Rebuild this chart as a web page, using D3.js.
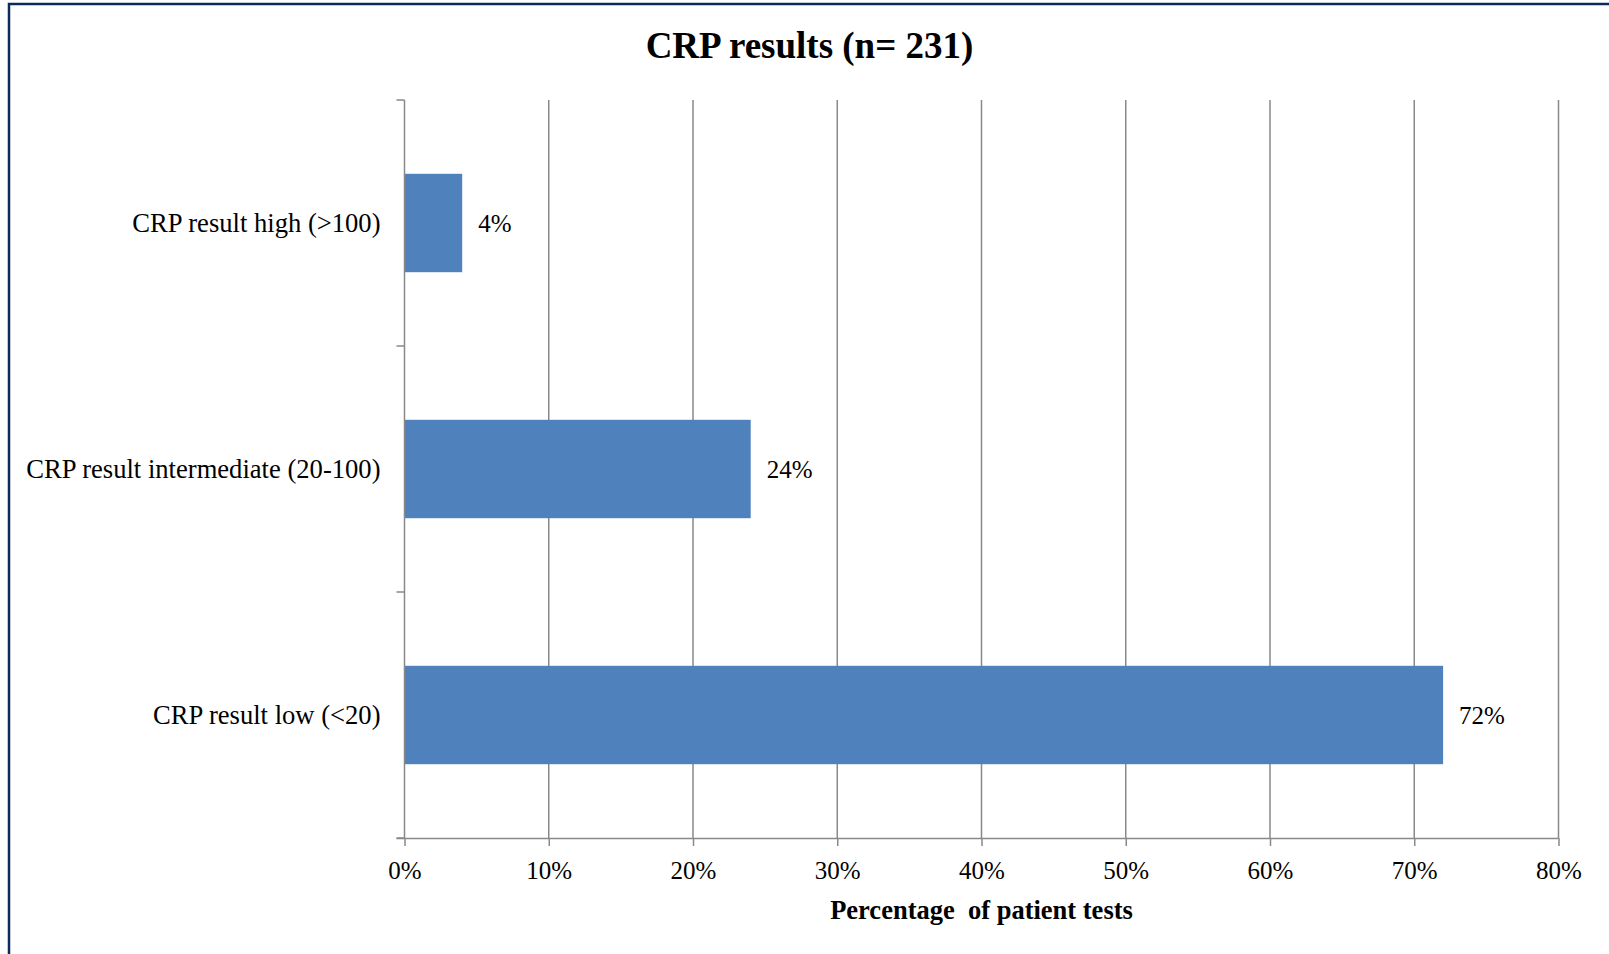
<!DOCTYPE html>
<html>
<head>
<meta charset="utf-8">
<script src="https://cdn.jsdelivr.net/npm/d3@7"></script>
<style>
  html, body { margin: 0; padding: 0; background: #fff; }
  svg { display: block; }
  text { font-family: "Liberation Serif", "Times New Roman", serif; fill: #000; }
</style>
</head>
<body>
<script>
// CRP result categories and share of patient tests
const categories = ["CRP result high (>100)", "CRP result intermediate (20-100)", "CRP result low (<20)"];
const values = [4, 24, 72];
const xTicks = [0, 10, 20, 30, 40, 50, 60, 70, 80];
const chartTitle = "CRP results (n= 231)";
const xTitle = "Percentage  of patient tests";

const W = 1609, H = 954;
const plot = { left: 404.5, right: 1558.5, top: 100, bottom: 838 };
const gridColor = "#898989";
const catSize = 26.6;
const numSize = 25;

const svg = d3.select("body").append("svg")
  .attr("width", W).attr("height", H);

// outer frame
svg.append("rect")
  .attr("x", 9).attr("y", 4)
  .attr("width", W + 20).attr("height", H + 20)
  .attr("fill", "#fff")
  .attr("stroke", "#0c2a5c").attr("stroke-width", 2.5);

const x = d3.scaleLinear().domain([0, 80]).range([plot.left, plot.right]);
const y = d3.scaleBand().domain(categories).range([plot.top, plot.bottom])
  .paddingInner(0.6).paddingOuter(0.3);

// vertical gridlines
svg.append("g")
  .selectAll("line")
  .data(xTicks.slice(1))
  .join("line")
  .attr("x1", d => x(d)).attr("x2", d => x(d))
  .attr("y1", plot.top).attr("y2", plot.bottom)
  .attr("stroke", gridColor).attr("stroke-width", 1.5);

// bars
svg.append("g")
  .selectAll("rect")
  .data(values)
  .join("rect")
  .attr("x", x(0))
  .attr("y", (d, i) => y(categories[i]))
  .attr("width", d => x(d) - x(0))
  .attr("height", y.bandwidth())
  .attr("fill", "#4f81bd");

// value labels
svg.append("g")
  .selectAll("text")
  .data(values)
  .join("text")
  .attr("x", d => x(d) + 16)
  .attr("y", (d, i) => y(categories[i]) + y.bandwidth() / 2)
  .attr("dy", "0.35em")
  .attr("font-size", numSize)
  .text(d => d + "%");

// x axis
const xAxis = svg.append("g")
  .attr("transform", `translate(0,${plot.bottom})`)
  .call(d3.axisBottom(x).tickValues(xTicks).tickFormat(d => d + "%")
    .tickSizeInner(8).tickSizeOuter(0).tickPadding(15));
xAxis.select(".domain").attr("stroke", gridColor).attr("stroke-width", 1.5)
  .attr("d", `M${plot.left - 8},0.5H${plot.right}`);
xAxis.selectAll(".tick line").attr("stroke", gridColor).attr("stroke-width", 1.5);
xAxis.selectAll(".tick text")
  .attr("font-family", "Liberation Serif, Times New Roman, serif")
  .attr("font-size", numSize).attr("fill", "#000");

// y axis with ticks between categories
const yBound = d3.scaleLinear().domain([0, categories.length]).range([plot.top, plot.bottom]);
const yAxis = svg.append("g");
yAxis.append("line")
  .attr("x1", plot.left).attr("x2", plot.left)
  .attr("y1", plot.top).attr("y2", plot.bottom)
  .attr("stroke", gridColor).attr("stroke-width", 1.5);
yAxis.selectAll("line.tk")
  .data(d3.range(categories.length + 1))
  .join("line").attr("class", "tk")
  .attr("x1", plot.left - 8).attr("x2", plot.left)
  .attr("y1", d => yBound(d)).attr("y2", d => yBound(d))
  .attr("stroke", gridColor).attr("stroke-width", 1.5);
yAxis.selectAll("text")
  .data(categories)
  .join("text")
  .attr("x", plot.left - 24)
  .attr("y", d => y(d) + y.bandwidth() / 2)
  .attr("dy", "0.35em")
  .attr("text-anchor", "end")
  .attr("font-size", catSize)
  .text(d => d);

// titles
svg.append("text")
  .attr("x", (plot.left + plot.right) / 2 - 172)
  .attr("y", 58)
  .attr("text-anchor", "middle")
  .attr("font-size", 37).attr("font-weight", "bold")
  .text(chartTitle);

svg.append("text")
  .attr("x", (plot.left + plot.right) / 2)
  .attr("y", 919)
  .attr("text-anchor", "middle")
  .attr("font-size", 26.5).attr("font-weight", "bold")
  .style("white-space", "pre")
  .text(xTitle);
</script>
</body>
</html>
